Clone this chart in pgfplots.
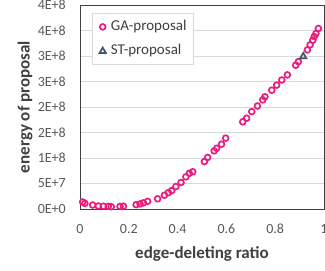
\documentclass[border=0pt]{standalone}
\usepackage{fontspec}
\setmainfont{Carlito}
\usepackage{pgfplots}
\pgfplotsset{compat=1.18}
\definecolor{ga}{RGB}{236,28,124}
\definecolor{st}{RGB}{68,84,106}
\definecolor{tickc}{RGB}{89,89,89}
\definecolor{lab}{RGB}{64,64,64}
\definecolor{gridc}{RGB}{217,217,217}
\begin{document}
\begin{tikzpicture}
\path[use as bounding box] (-80pt,-62pt) rectangle (245pt,209pt);
\begin{axis}[
 at={(0pt,0pt)}, anchor=south west, scale only axis, width=244pt, height=204pt,
 xmin=0,xmax=1,ymin=0,ymax=4e8,
 xtick={0,0.2,0.4,0.6,0.8,1}, xticklabels={0,0.2,0.4,0.6,0.8,1},
 ytick={0,5e7,1e8,1.5e8,2e8,2.5e8,3e8,3.5e8,4e8},
 yticklabels={0E+0,5E+7,1E+8,2E+8,2E+8,3E+8,3E+8,4E+8,4E+8},
 scaled y ticks=false, scaled x ticks=false,
 major tick length=0pt,
 ymajorgrids, grid style={gridc, line width=0.8pt},
 axis line style={draw=lab, line width=0.8pt},
 ticklabel style={font=\fontsize{14}{16}\selectfont, text=tickc},
 xticklabel style={anchor=center, yshift=-20pt},
 yticklabel style={anchor=east, inner sep=0pt, xshift=-14pt},
 xlabel={edge-deleting ratio}, ylabel={energy of proposal},
 label style={font=\fontsize{17}{19}\selectfont\bfseries, text=lab},
 xlabel style={at={(axis description cs:0.5,-0.222)}, anchor=center},
 ylabel style={at={(axis description cs:-0.225,0.5)}, anchor=center},
 legend image code/.code={\draw[#1] plot coordinates {(0pt,0pt)};},
 legend style={at={(axis description cs:0.05,0.959)}, anchor=north west, draw=gridc, line width=0.8pt, fill=white,
   font=\fontsize{15}{17}\selectfont, text=lab, inner xsep=7pt, inner ysep=6.5pt, row sep=11pt, column sep=5pt,
   nodes={inner sep=0pt, text height=10.3pt, text depth=3pt}},
 legend cell align=left,
 clip=false,
]
\addplot[only marks, mark=o, mark size=2.9pt, mark options={draw=ga, line width=1.7pt, fill=white}] coordinates {
(0.011,1.37e7) (0.02,1.1e7) (0.052,7.8e6) (0.075,5.9e6) (0.096,5.5e6) (0.116,5.2e6) (0.128,4.5e6)
(0.164,5.0e6) (0.178,5.5e6) (0.23,8.5e6) (0.246,1.0e7) (0.26,1.2e7) (0.277,1.5e7)
(0.318,2.0e7) (0.346,2.7e7) (0.362,3.2e7) (0.376,3.6e7) (0.393,4.4e7) (0.414,5.2e7)
(0.434,6.3e7) (0.448,7.0e7) (0.462,7.3e7) (0.51,9.3e7) (0.523,1.01e8) (0.55,1.14e8)
(0.56,1.19e8) (0.58,1.27e8) (0.597,1.39e8) (0.667,1.71e8) (0.683,1.78e8) (0.704,1.91e8)
(0.727,2.02e8) (0.749,2.14e8) (0.758,2.2e8) (0.786,2.33e8) (0.806,2.43e8) (0.827,2.53e8)
(0.85,2.63e8) (0.884,2.82e8) (0.895,2.89e8) (0.932,3.12e8) (0.943,3.22e8) (0.954,3.31e8)
(0.96,3.38e8) (0.967,3.44e8) (0.977,3.54e8)
};
\addlegendentry{GA-proposal}
\addplot[only marks, mark=triangle, mark size=3.6pt, mark options={draw=st, line width=1.7pt, fill=white}] coordinates {
(0.915,2.99e8)
};
\addlegendentry{ST-proposal}
\end{axis}
\end{tikzpicture}
\end{document}
